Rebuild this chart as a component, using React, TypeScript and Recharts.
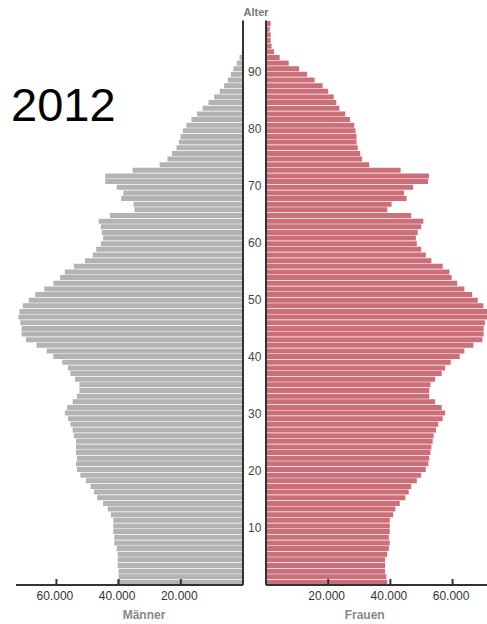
import React from "react";
import { BarChart, Bar, XAxis, YAxis, ReferenceLine } from "recharts";

const ages = [
  0, 1, 2, 3, 4, 5, 6, 7, 8, 9, 10, 11, 12, 13, 14, 15, 16, 17, 18, 19,
  20, 21, 22, 23, 24, 25, 26, 27, 28, 29, 30, 31, 32, 33, 34, 35, 36, 37, 38, 39,
  40, 41, 42, 43, 44, 45, 46, 47, 48, 49, 50, 51, 52, 53, 54, 55, 56, 57, 58, 59,
  60, 61, 62, 63, 64, 65, 66, 67, 68, 69, 70, 71, 72, 73, 74, 75, 76, 77, 78, 79,
  80, 81, 82, 83, 84, 85, 86, 87, 88, 89, 90, 91, 92, 93, 94, 95, 96, 97, 98, 99,
];

// thousands, age 0..99
const maenner = [
  40.6, 40.0, 40.0, 40.3, 40.3, 40.3, 40.6, 41.4, 41.4, 41.7,
  41.7, 41.7, 42.5, 43.5, 45.0, 46.9, 47.9, 49.0, 50.5, 52.3,
  53.4, 53.7, 53.4, 53.7, 53.7, 53.7, 54.4, 54.8, 55.5, 56.3,
  57.3, 56.6, 54.8, 53.4, 52.6, 52.6, 54.0, 55.5, 56.3, 58.1,
  61.0, 63.1, 66.4, 69.8, 71.2, 71.2, 71.6, 72.2, 71.9, 70.8,
  68.9, 66.8, 63.9, 61.0, 58.8, 57.3, 54.4, 50.8, 48.3, 47.2,
  45.7, 45.0, 45.4, 45.7, 46.4, 42.8, 34.9, 35.2, 39.2, 38.5,
  40.6, 44.3, 44.3, 35.5, 26.8, 24.3, 22.8, 21.4, 20.6, 20.1,
  19.3, 18.2, 16.6, 14.8, 13.0, 11.1, 9.3, 7.5, 6.1, 4.9,
  3.9, 3.1, 2.0, 1.1, 0.4, 0.2, 0.1, 0.1, 0, 0,
];

const frauen = [
  39.0, 38.7, 38.3, 38.3, 38.3, 39.0, 39.5, 39.8, 39.5, 39.8,
  39.8, 39.8, 40.9, 41.6, 43.0, 44.8, 45.9, 46.7, 48.5, 49.9,
  51.4, 52.2, 52.5, 52.9, 53.2, 53.6, 53.9, 54.7, 55.4, 56.8,
  57.6, 56.5, 54.4, 52.5, 52.5, 52.9, 54.4, 56.5, 57.6, 59.4,
  62.3, 63.8, 66.7, 69.6, 70.0, 70.0, 70.4, 72.0, 71.8, 69.9,
  68.1, 66.3, 63.8, 61.5, 59.7, 59.0, 56.8, 53.2, 51.4, 49.9,
  48.5, 48.2, 48.8, 49.9, 50.6, 46.7, 39.0, 40.4, 45.2, 44.4,
  47.3, 52.1, 52.4, 43.3, 33.2, 30.9, 30.3, 29.5, 29.1, 29.1,
  28.8, 28.4, 27.0, 25.5, 23.6, 22.6, 21.8, 20.0, 18.2, 15.6,
  13.2, 10.6, 7.3, 4.4, 2.6, 1.8, 1.5, 1.5, 1.2, 1.5,
];

const valueTicks = [20, 40, 60];
const ageTicks = [10, 20, 30, 40, 50, 60, 70, 80, 90];
const yearLabel = "2012";

const data = ages.map((a, i) => ({ age: a, men: maenner[i], women: frauen[i] }));

const FONT = "'Liberation Sans', Arial, sans-serif";

const XTick = (props: any) => {
  const { x, y, payload } = props;
  return (
    <g>
      <line x1={x} x2={x} y1={y - 6} y2={y} stroke="#333" strokeWidth={2} />
      <text x={x - 1.5} y={y + 15} textAnchor="middle" fontSize={12} fill="#333" fontFamily={FONT}>
        {payload.value}.000
      </text>
    </g>
  );
};

const AgeTick = (props: any) => {
  const { y, payload } = props;
  return (
    <text x={11.7} y={y + 4.2} textAnchor="middle" fontSize={12} fill="#444" fontFamily={FONT}>
      {payload.value}
    </text>
  );
};

export default function App() {
  return (
    <div
      style={{
        position: "absolute",
        left: 0,
        top: 0,
        width: 487,
        height: 624,
        overflow: "hidden",
        background: "#fff",
        fontFamily: FONT,
      }}
    >
      <div style={{ position: "absolute", left: 0, top: 0 }}>
        <BarChart
          width={244}
          height={624}
          layout="vertical"
          data={data}
          margin={{ top: 20.5, right: 1, bottom: 9, left: 16 }}
          barCategoryGap="10%"
        >
          <XAxis
            type="number"
            domain={[0, 73]}
            reversed
            ticks={valueTicks}
            tickLine={false}
            tickSize={0}
            tickMargin={0}
            tick={<XTick />}
            axisLine={{ stroke: "#333", strokeWidth: 2 }}
            height={30}
            allowDataOverflow
          />
          <YAxis type="category" dataKey="age" reversed hide />
          <Bar dataKey="men" fill="#b3b3b3" isAnimationActive={false} />
          <ReferenceLine x={0} stroke="#333" strokeWidth={2} />
        </BarChart>
      </div>
      <div style={{ position: "absolute", left: 243, top: 0 }}>
        <BarChart
          width={250}
          height={624}
          layout="vertical"
          data={data}
          margin={{ top: 20.5, right: 0, bottom: 9, left: 0 }}
          barCategoryGap="10%"
        >
          <XAxis
            type="number"
            domain={[0, 73]}
            ticks={valueTicks}
            tickLine={false}
            tickSize={0}
            tickMargin={0}
            tick={<XTick />}
            axisLine={{ stroke: "#333", strokeWidth: 2 }}
            height={30}
            allowDataOverflow
          />
          <YAxis yAxisId="cat" type="category" dataKey="age" reversed hide />
          <YAxis
            yAxisId="age"
            type="number"
            domain={[0, 100]}
            reversed
            ticks={ageTicks}
            width={23}
            axisLine={false}
            tickLine={false}
            tick={<AgeTick />}
            allowDataOverflow
          />
          <Bar dataKey="women" yAxisId="cat" fill="#cc6f79" isAnimationActive={false} />
          <ReferenceLine x={0} yAxisId="cat" stroke="#333" strokeWidth={2} />
        </BarChart>
      </div>
      <svg
        width={487}
        height={624}
        style={{ position: "absolute", left: 0, top: 0, pointerEvents: "none" }}
      >
        <text x={11} y={120.7} fontSize={47} fill="#000" fontFamily={FONT}>
          {yearLabel}
        </text>
        <text x={256} y={15.5} fontSize={11} fontWeight="bold" fill="#777" textAnchor="middle" fontFamily={FONT}>
          Alter
        </text>
        <text x={144} y={619} fontSize={12} fontWeight="bold" fill="#888" textAnchor="middle" fontFamily={FONT}>
          Männer
        </text>
        <text x={364.7} y={619} fontSize={12} fontWeight="bold" fill="#888" textAnchor="middle" fontFamily={FONT}>
          Frauen
        </text>
      </svg>
    </div>
  );
}
